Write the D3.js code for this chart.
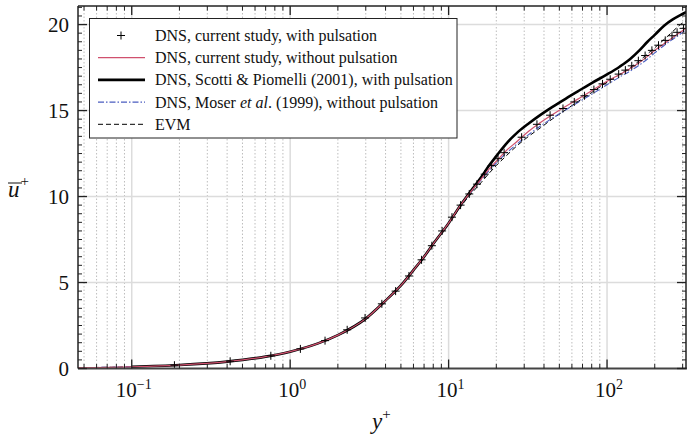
<!DOCTYPE html>
<html><head><meta charset="utf-8">
<script src="https://cdn.jsdelivr.net/npm/d3@7"></script>
<style>body{margin:0;background:#fff}</style>
</head><body><svg id="c" width="687" height="436" font-family="Liberation Serif"></svg>
<script>
// DNS, current study, with pulsation (markers)
const markYp = [0.186,0.418,0.755,1.16,1.66,2.29,2.97,3.79,4.63,5.62,6.75,7.84,9.1,10.5,11.9,13.5,15.1,16.9,18.7,20.5,22.4,28.9,36.1,43.7,52.7,62.1,72,82.6,93.6,104.7,118.4,130.5,143.2,157.6,173.9,191.9,211.2,233,257,276.8,304];
const markU  = [0.19,0.42,0.74,1.14,1.62,2.25,2.94,3.76,4.5,5.38,6.32,7.14,8.0,8.8,9.5,10.15,10.72,11.3,11.8,12.2,12.55,13.45,14.2,14.73,15.12,15.5,15.86,16.22,16.55,16.82,17.12,17.35,17.6,17.9,18.2,18.5,18.8,19.08,19.35,19.55,19.78];
// common y+ grid for the line series
const ypGrid = [0.0458,0.1,0.2,0.4,0.7,1,1.5,2,3,4,5,6,7,8,10,12,14,16,18,20,23,27,32,38,45,55,65,80,100,120,140,160,180,200,230,260,290,320];
const redU   = [0.046,0.1,0.2,0.4,0.69,0.98,1.46,1.94,2.9,3.95,4.83,5.72,6.5,7.25,8.45,9.55,10.35,11.0,11.6,12.05,12.65,13.2,13.8,14.3,14.75,15.25,15.65,16.15,16.7,17.1,17.45,17.8,18.15,18.5,18.9,19.25,19.55,19.85];
const blueU  = [0.046,0.1,0.2,0.4,0.69,0.98,1.46,1.94,2.9,3.95,4.83,5.72,6.5,7.25,8.45,9.5,10.3,10.95,11.5,11.95,12.5,13.05,13.6,14.1,14.55,15.05,15.45,15.95,16.5,16.95,17.3,17.65,18.0,18.35,18.8,19.15,19.45,19.75];
const evmU   = [0.046,0.1,0.2,0.4,0.69,0.98,1.46,1.94,2.9,3.95,4.83,5.72,6.5,7.25,8.4,9.45,10.2,10.8,11.35,11.8,12.35,12.95,13.5,14.0,14.5,15.05,15.5,16.05,16.65,17.1,17.5,17.9,18.3,18.65,19.15,19.6,20.0,20.25];
// Scotti & Piomelli (2001), with pulsation
const spYp = [0.1,0.2,0.4,0.7,1,1.5,2,3,4,5,6,7,8,10,12,14,16,18,20,23,27,32,38,45,55,65,80,100,120,140,160,180,200,230,260,290,320];
const spU  = [0.1,0.2,0.4,0.69,0.98,1.46,1.94,2.9,3.95,4.83,5.72,6.5,7.25,8.45,9.55,10.4,11.1,11.8,12.35,13.05,13.7,14.25,14.75,15.2,15.7,16.1,16.6,17.1,17.55,18.0,18.5,19.0,19.4,19.95,20.3,20.55,20.75];
const xMajor = [0.1,1,10,100];
const xMajorLabels = ["\u22121","0","1","2"];
const xMinor = [0.05,0.06,0.07,0.08,0.09,0.2,0.3,0.4,0.5,0.6,0.7,0.8,0.9,2,3,4,5,6,7,8,9,20,30,40,50,60,70,80,90,200,300];
const yMajor = [0,5,10,15,20];
const legendLabels = ["DNS, current study, with pulsation","DNS, current study, without pulsation","DNS, Scotti & Piomelli (2001), with pulsation","DNS, Moser et al. (1999), without pulsation","EVM"];

const FONT="Liberation Serif";
const L=78,R=686,T=6,B=368.5;
const svg=d3.select("#c");
const x=d3.scaleLog().domain([0.0458,315]).range([L,R]);
const y=d3.scaleLinear().domain([0,21.08]).range([B,T]);
const txt=(sel)=>sel.append("text").style("font-family",FONT).attr("font-family",FONT);

// grid
const g=svg.append("g");
g.selectAll(".mn").data(xMinor).join("line").attr("x1",d=>x(d)).attr("x2",d=>x(d)).attr("y1",T).attr("y2",B)
 .attr("stroke","#bdbdbd").attr("stroke-width",1).attr("stroke-dasharray","1.5,2");
g.selectAll(".mj").data(xMajor).join("line").attr("x1",d=>x(d)).attr("x2",d=>x(d)).attr("y1",T).attr("y2",B)
 .attr("stroke","#dcdcdc").attr("stroke-width",1.5);
g.selectAll(".hy").data(yMajor.slice(1)).join("line").attr("x1",L).attr("x2",R).attr("y1",d=>y(d)).attr("y2",d=>y(d))
 .attr("stroke","#dcdcdc").attr("stroke-width",1.5);

// clip
svg.append("clipPath").attr("id","cp").append("rect").attr("x",L).attr("y",T).attr("width",R-L).attr("height",B-T);
const pg=svg.append("g").attr("clip-path","url(#cp)");
const line=d3.line().x(d=>x(d[0])).y(d=>y(d[1])).curve(d3.curveMonotoneX);
const zip=(a,b)=>a.map((v,i)=>[v,b[i]]);
pg.append("path").attr("d",line(zip(ypGrid,evmU))).attr("fill","none").attr("stroke","#000").attr("stroke-width",1).attr("stroke-dasharray","5,3");
pg.append("path").attr("d",line(zip(ypGrid,blueU))).attr("fill","none").attr("stroke","#4a5cc0").attr("stroke-width",1.1).attr("stroke-dasharray","6,2,1.5,2");
pg.append("path").attr("d",line(zip(spYp,spU))).attr("fill","none").attr("stroke","#000").attr("stroke-width",2.6);
pg.append("path").attr("d",line(zip(ypGrid,redU))).attr("fill","none").attr("stroke","#d0506e").attr("stroke-width",1.2);
const plus=(sel,cx,cy,s)=>{sel.append("path").attr("d",`M${cx-s},${cy}H${cx+s}M${cx},${cy-s}V${cy+s}`).attr("stroke","#000").attr("stroke-width",1).attr("fill","none");};
zip(markYp,markU).forEach(d=>plus(pg,x(d[0]),y(d[1]),4));

// axes frame & ticks
const ax=svg.append("g").attr("stroke","#222");
ax.append("line").attr("x1",L).attr("x2",R+1).attr("y1",B).attr("y2",B).attr("stroke-width",2).attr("stroke","#444");
ax.append("line").attr("x1",L).attr("x2",R+1).attr("y1",T).attr("y2",T).attr("stroke-width",1.5);
ax.append("line").attr("x1",L).attr("x2",L).attr("y1",T).attr("y2",B).attr("stroke-width",1.5);
ax.append("line").attr("x1",R).attr("x2",R).attr("y1",T).attr("y2",B).attr("stroke-width",1.5);
xMajor.forEach(v=>{ax.append("line").attr("x1",x(v)).attr("x2",x(v)).attr("y1",B).attr("y2",B-9).attr("stroke-width",1.3);
 ax.append("line").attr("x1",x(v)).attr("x2",x(v)).attr("y1",T).attr("y2",T+9).attr("stroke-width",1.3);});
xMinor.forEach(v=>{ax.append("line").attr("x1",x(v)).attr("x2",x(v)).attr("y1",B).attr("y2",B-4.5).attr("stroke-width",1);
 ax.append("line").attr("x1",x(v)).attr("x2",x(v)).attr("y1",T).attr("y2",T+4.5).attr("stroke-width",1);});
d3.range(0,21.01,0.5).forEach(v=>{const maj=yMajor.includes(v);const len=maj?9:4;
 ax.append("line").attr("x1",L).attr("x2",L+len).attr("y1",y(v)).attr("y2",y(v)).attr("stroke-width",maj?1.3:1);
 ax.append("line").attr("x1",R).attr("x2",R-len).attr("y1",y(v)).attr("y2",y(v)).attr("stroke-width",maj?1.3:1);});

// tick labels
xMajor.forEach((v,i)=>{const t=txt(svg).attr("x",x(v)+2).attr("y",397).attr("text-anchor","middle").attr("font-size",21).attr("fill","#111");
 t.append("tspan").text("10");t.append("tspan").attr("font-size",14).attr("dy",-8).text(xMajorLabels[i]);});
yMajor.forEach(v=>txt(svg).attr("x",69).attr("y",y(v)+7).attr("text-anchor","end").attr("font-size",21).attr("fill","#111").text(v));

// axis titles
const xt=txt(svg).attr("x",372).attr("y",429).attr("font-size",23).attr("fill","#111");
xt.append("tspan").attr("font-style","italic").text("y");
xt.append("tspan").attr("font-size",15).attr("dy",-10).text("+");
const yt=txt(svg).attr("x",8).attr("y",197).attr("font-size",23).attr("fill","#111");
yt.append("tspan").attr("font-style","italic").text("u");
yt.append("tspan").attr("font-size",15).attr("dy",-11).attr("dx",1).text("+");
svg.append("line").attr("x1",8).attr("x2",22).attr("y1",183).attr("y2",183).attr("stroke","#111").attr("stroke-width",1);

// legend
const lg=svg.append("g");
lg.append("rect").attr("x",89.5).attr("y",18.5).attr("width",367.5).attr("height",119.5).attr("fill","#fff").attr("stroke","#222").attr("stroke-width",1);
const rowY=i=>35.5+i*22.2;
plus(lg,121,rowY(0),4);
lg.append("line").attr("x1",98).attr("x2",145).attr("y1",rowY(1)).attr("y2",rowY(1)).attr("stroke","#d0506e").attr("stroke-width",1.2);
lg.append("line").attr("x1",98).attr("x2",145).attr("y1",rowY(2)).attr("y2",rowY(2)).attr("stroke","#000").attr("stroke-width",2.6);
lg.append("line").attr("x1",98).attr("x2",145).attr("y1",rowY(3)).attr("y2",rowY(3)).attr("stroke","#4a5cc0").attr("stroke-width",1.1).attr("stroke-dasharray","6,2,1.5,2");
lg.append("line").attr("x1",98).attr("x2",145).attr("y1",rowY(4)).attr("y2",rowY(4)).attr("stroke","#000").attr("stroke-width",1).attr("stroke-dasharray","5,3");
legendLabels.forEach((s,i)=>{const t=txt(lg).attr("x",155).attr("y",rowY(i)+5.5).attr("font-size",16).attr("fill","#111");
 if(s.includes("et al.")){const p=s.split("et al.");t.append("tspan").text(p[0]);t.append("tspan").attr("font-style","italic").text("et al");t.append("tspan").text("."+p[1]);}
 else t.text(s);});
</script></body></html>
